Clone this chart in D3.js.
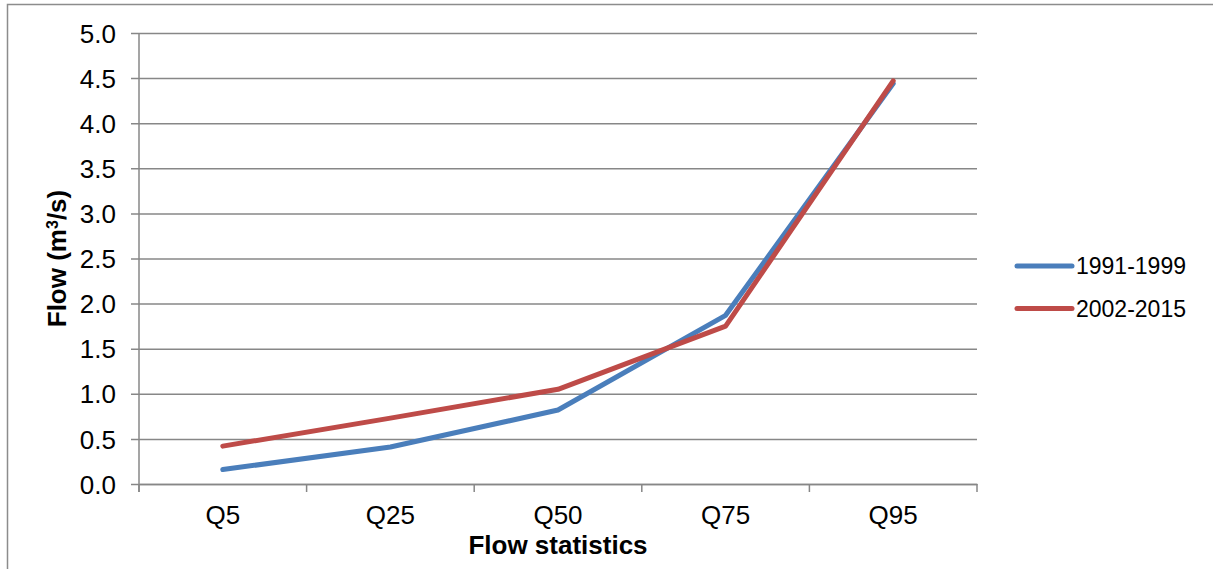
<!DOCTYPE html>
<html>
<head>
<meta charset="utf-8">
<script src="https://cdn.jsdelivr.net/npm/d3@7"></script>
<style>
  body { margin: 0; background: #fff; }
  text { font-family: "Liberation Sans", Arial, sans-serif; fill: #000; }
</style>
</head>
<body>
<div class="chart"></div>
<script>
const categories = ['Q5', 'Q25', 'Q50', 'Q75', 'Q95'];
const seriesNames = ['1991-1999', '2002-2015'];
const values1991 = [0.16, 0.41, 0.82, 1.87, 4.44];
const values2002 = [0.42, 0.73, 1.05, 1.75, 4.47];
const yTicks = [0, 0.5, 1, 1.5, 2, 2.5, 3, 3.5, 4, 4.5, 5];
const colors = ['#4a7ebb', '#be4b48'];

const series = [
    { name: seriesNames[0], values: values1991, color: colors[0] },
    { name: seriesNames[1], values: values2002, color: colors[1] }
];

const W = 1213, H = 569;
const plot = { left: 139, right: 977, top: 33, bottom: 484 };

const svg = d3.select('.chart')
    .append('svg')
    .attr('width', W)
    .attr('height', H);

// outer frame (only left and top edges visible)
svg.append('path')
    .attr('d', `M7.5,${H} V4.5 H${W}`)
    .attr('fill', 'none')
    .attr('stroke', '#8c8c8c')
    .attr('stroke-width', 1.5);

// scales
const xScale = d3.scaleBand()
    .domain(categories)
    .range([plot.left, plot.right]);

const yScale = d3.scaleLinear()
    .domain([0, 5])
    .range([plot.bottom, plot.top]);

// y axis with gridlines
const yAxis = d3.axisLeft(yScale)
    .tickValues(yTicks)
    .tickFormat(d3.format('.1f'))
    .tickSizeInner(-(plot.right - plot.left))
    .tickSizeOuter(0)
    .tickPadding(23);

const yAxisDraw = svg.append('g')
    .attr('class', 'y-axis')
    .attr('transform', `translate(${plot.left}, 0)`)
    .call(yAxis);

yAxisDraw.select('.domain').remove();
yAxisDraw.selectAll('.tick line')
    .attr('x1', -8)
    .attr('stroke', '#878787')
    .attr('stroke-width', 1.5);
yAxisDraw.selectAll('.tick text')
    .style('font-size', '26px')
    .attr('dy', '0.35em');

// vertical axis line
svg.append('line')
    .attr('x1', plot.left).attr('x2', plot.left)
    .attr('y1', plot.top).attr('y2', plot.bottom + 8)
    .attr('stroke', '#878787')
    .attr('stroke-width', 1.5);

// x axis
const xAxis = d3.axisBottom(xScale)
    .tickSize(0)
    .tickPadding(22);

const xAxisDraw = svg.append('g')
    .attr('class', 'x-axis')
    .attr('transform', `translate(0, ${plot.bottom})`)
    .call(xAxis);

xAxisDraw.select('.domain')
    .attr('stroke', '#878787')
    .attr('stroke-width', 1.5);
xAxisDraw.selectAll('.tick text')
    .style('font-size', '26px')
    .attr('dy', '0.71em');

// category boundary ticks
const bounds = categories.map(c => xScale(c)).concat([plot.right]);
xAxisDraw.selectAll('.bound')
    .data(bounds)
    .enter()
    .append('line')
    .attr('class', 'bound')
    .attr('x1', d => d).attr('x2', d => d)
    .attr('y1', 0).attr('y2', 8)
    .attr('stroke', '#878787')
    .attr('stroke-width', 1.5);

// lines
const lineGen = d3.line()
    .x((d, i) => xScale(categories[i]) + xScale.bandwidth() / 2)
    .y(d => yScale(d));

svg.append('g')
    .attr('class', 'line-chart')
    .selectAll('.line-series')
    .data(series)
    .enter()
    .append('path')
    .attr('class', 'line-series')
    .attr('d', d => lineGen(d.values))
    .attr('fill', 'none')
    .attr('stroke', d => d.color)
    .attr('stroke-width', 5)
    .attr('stroke-linejoin', 'round')
    .attr('stroke-linecap', 'round');

// axis titles
svg.append('text')
    .attr('x', (plot.left + plot.right) / 2)
    .attr('y', 554)
    .attr('text-anchor', 'middle')
    .style('font-size', '26px')
    .style('font-weight', 'bold')
    .text('Flow statistics');

svg.append('text')
    .attr('transform', `translate(66, ${(plot.top + plot.bottom) / 2}) rotate(-90)`)
    .attr('text-anchor', 'middle')
    .style('font-size', '26px')
    .style('font-weight', 'bold')
    .html('Flow (m<tspan baseline-shift="super" font-size="16px">3</tspan>/s)');

// legend
const legend = svg.append('g')
    .attr('class', 'legend')
    .selectAll('g')
    .data(series)
    .enter()
    .append('g')
    .attr('transform', (d, i) => `translate(1017, ${266 + i * 42.5})`);

legend.append('line')
    .attr('x1', 0).attr('x2', 55)
    .attr('stroke', d => d.color)
    .attr('stroke-width', 5)
    .attr('stroke-linecap', 'round');

legend.append('text')
    .attr('x', 59)
    .attr('dy', '0.35em')
    .style('font-size', '23px')
    .text(d => d.name);
</script>
</body>
</html>
